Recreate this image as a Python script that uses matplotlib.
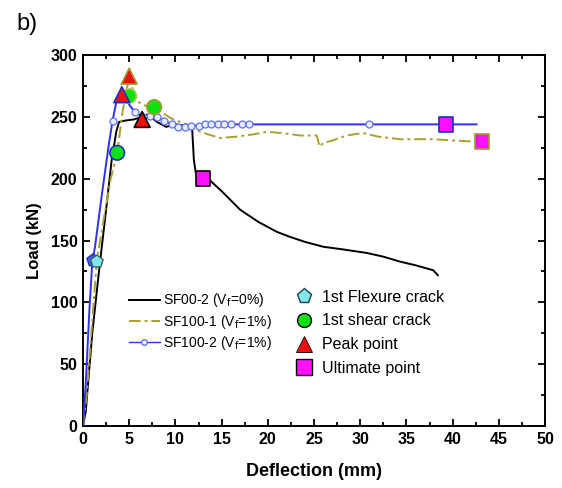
import matplotlib
matplotlib.use("Agg")
import matplotlib.pyplot as plt
from matplotlib.lines import Line2D

plt.rcParams['font.family'] = ['Liberation Sans', 'DejaVu Sans']

# SF00-2 (Vf=0%)
black_x = [0, 0.3, 1.0, 1.8, 2.5, 3.1, 3.6, 3.9, 4.5, 5.5, 6.4, 7.0, 8.0, 9.0, 10.0, 11.0, 11.8, 12.0, 12.2, 12.6,
           13.7, 15.0, 17.0, 19.0, 21.0, 22.4, 24.0, 26.0, 28.0, 30.7, 32.5, 34.3, 36.0, 37.9, 38.4]
black_y = [0, 12, 75, 130, 175, 215, 238, 246, 247, 248, 250, 252, 246, 242, 244, 243, 242, 215, 205, 201,
           199, 190, 175, 165, 157, 153, 149, 145, 143, 140, 137, 133, 130, 126, 122]

# SF100-1 (Vf=1%)
olive_x = [0, 0.4, 1.0, 1.5, 2.3, 3.0, 3.7, 4.3, 4.8, 5.0, 5.4, 6.0, 6.8, 7.7, 8.5, 9.5, 10.5, 11.5, 12.7,
           13.5, 14.8, 16.5, 18.5, 19.9, 21.5, 23.5, 25.3, 25.6, 26.0, 27.0, 28.5, 30.3, 32.0, 34.3, 36.0,
           37.9, 40.0, 42.6, 43.2]
olive_y = [0, 25, 85, 134, 170, 200, 221, 255, 275, 280, 272, 262, 259, 258, 254, 249, 246, 243, 238,
           236, 233, 234, 236, 238, 237, 235, 235, 226, 229, 231, 235, 237, 234, 232, 232,
           232, 231, 230, 230]

# SF100-2 (Vf=1%)
blue_x = [0, 0.3, 0.7, 1.0, 1.3, 2.0, 2.8, 3.2, 3.6, 4.0, 4.3, 4.8, 5.6, 6.5, 7.2, 8.0, 8.8, 9.6, 10.3,
          11.0, 11.7, 12.5, 13.2, 13.9, 14.6, 15.3, 16.0, 17.2, 18.0, 22.0, 26.0, 31.0, 35.0, 39.3, 42.6]
blue_y = [0, 35, 95, 132, 145, 185, 228, 247, 262, 267, 268, 262, 254, 250, 251, 250, 247, 244, 242,
          242, 243, 243, 244, 244, 244, 244, 244, 244, 244, 244, 244, 244, 244, 244, 244]
blue_marker_idx = [7, 12, 13, 14, 15, 16, 17, 18, 19, 20, 21, 22, 23, 24, 25, 26, 27, 28, 31]

# Key points
flex_x = [1.1, 1.5]
flex_y = [134, 133]
shear_x = [3.7, 5.0, 7.7]
shear_y = [221, 267, 258]
shear_edge = ['#2030c0', '#b0d060', '#a09a30']
peak_x = [4.2, 5.0, 6.4]
peak_y = [268, 283, 248]
peak_edge = ['#2030c0', '#a09a30', 'black']
ult_x = [13.0, 39.3, 43.2]
ult_y = [200, 244, 230]
ult_edge = ['black', '#2030c0', '#a09a30']

x_ticks = [0, 5, 10, 15, 20, 25, 30, 35, 40, 45, 50]
y_ticks = [0, 50, 100, 150, 200, 250, 300]

fig = plt.figure(figsize=(5.62, 4.88), dpi=100)
ax = fig.add_axes([0.1477, 0.127, 0.8221, 0.760])

olive = '#a8a030'
blue = '#3030e8'
ax.plot(black_x, black_y, color='black', lw=1.4, zorder=3)
ax.plot(olive_x, olive_y, color=olive, lw=1.4, ls=(0, (6, 2, 1.5, 2)), zorder=3)
ax.plot(blue_x, blue_y, color=blue, lw=1.4, marker='o', ms=5, mfc='#e8ecff', mec='#6070f0',
        mew=0.9, markevery=blue_marker_idx, zorder=4)

ax.scatter(flex_x, flex_y, marker='p', s=90, c=['#4060e0', '#80e8e8'], edgecolors=['#2030c0', '#406060'],
           linewidths=1.0, zorder=6)
ax.scatter(shear_x, shear_y, marker='o', s=110, c='#10e010', edgecolors=shear_edge, linewidths=1.2, zorder=6)
ax.scatter(peak_x, peak_y, marker='^', s=130, c='#ee1010', edgecolors=peak_edge, linewidths=1.2, zorder=6)
ax.scatter(ult_x, ult_y, marker='s', s=110, c='#ff10ff', edgecolors=ult_edge, linewidths=1.2, zorder=6)

ax.set_xlim(0, 50)
ax.set_ylim(0, 300)
ax.set_xticks(x_ticks)
ax.set_yticks(y_ticks)
ax.set_xticks([2.5 + 5 * i for i in range(10)], minor=True)
ax.set_yticks([25 + 50 * i for i in range(6)], minor=True)
ax.tick_params(which='both', direction='in', top=True, right=True, width=1.3)
ax.tick_params(which='major', length=5, labelsize=11.5, pad=4)
ax.tick_params(which='minor', length=3)
for lab in ax.get_xticklabels() + ax.get_yticklabels():
    lab.set_fontweight('bold')
for sp in ax.spines.values():
    sp.set_linewidth(1.4)

ax.set_xlabel('Deflection (mm)', fontsize=13, fontweight='bold', labelpad=12)
ax.set_ylabel('Load (kN)', fontsize=12, fontweight='bold', labelpad=6)

h1 = [Line2D([], [], color='black', lw=1.4),
      Line2D([], [], color=olive, lw=1.4, ls=(0, (6, 2, 1.5, 2))),
      Line2D([], [], color=blue, lw=1.0, marker='o', ms=4, mfc='white', mec='#6070f0')]
l1 = ax.legend(h1, ['SF00-2 (V$_{\\rm f}$=0%)', 'SF100-1 (V$_{\\rm f}$=1%)', 'SF100-2 (V$_{\\rm f}$=1%)'],
               loc='upper left', bbox_to_anchor=(0.088, 0.378), frameon=False, fontsize=10,
               handlelength=2.2, handletextpad=0.25, labelspacing=0.25, borderaxespad=0)
ax.add_artist(l1)

h2 = [Line2D([], [], ls='none', marker='p', ms=11, mfc='#80e8e8', mec='#204050', mew=1.0),
      Line2D([], [], ls='none', marker='o', ms=10, mfc='#10e010', mec='black', mew=1.0),
      Line2D([], [], ls='none', marker='^', ms=11, mfc='#ee1010', mec='black', mew=0.6),
      Line2D([], [], ls='none', marker='s', ms=11, mfc='#ff10ff', mec='black', mew=1.0)]
ax.legend(h2, ['1st Flexure crack', '1st shear crack', 'Peak point', 'Ultimate point'],
          loc='upper left', bbox_to_anchor=(0.43, 0.385), frameon=False, fontsize=11.5,
          handletextpad=0.1, labelspacing=0.55, borderaxespad=0)

fig.text(0.03, 0.95, 'b)', fontsize=17, va='center', ha='left')

fig.savefig('out.png', dpi=100)
